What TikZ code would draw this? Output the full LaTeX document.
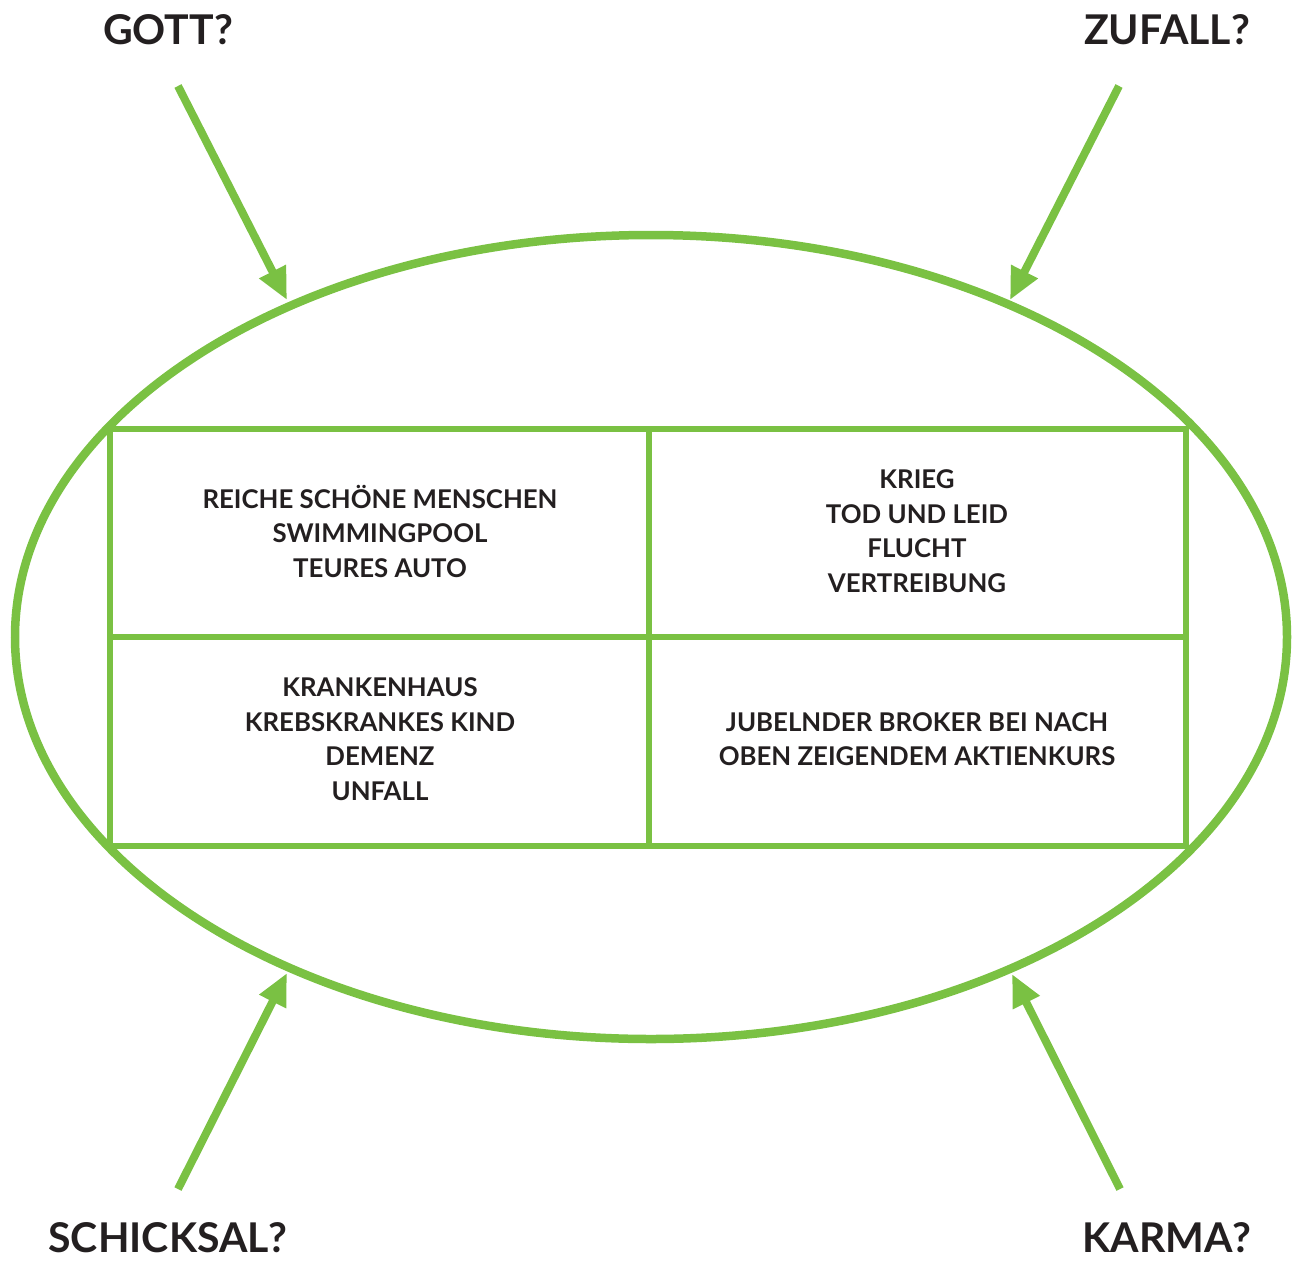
\documentclass[tikz,border=0pt]{standalone}
\usepackage{fontspec}
\setmainfont{Lato}
\usetikzlibrary{arrows.meta}
\definecolor{lgreen}{HTML}{7AC143}
\definecolor{ink}{HTML}{231F20}
\begin{document}
\begin{tikzpicture}[x=1pt,y=-1pt,
  frame/.style={draw=lgreen,line width=5.5pt},
  oval/.style={draw=lgreen,line width=8.5pt},
  pointer/.style={draw=lgreen,line width=8pt,-{Triangle[length=32pt,width=28pt]}},
  celltext/.style={align=center,text=ink,font=\fontsize{25.8}{34.5}\selectfont\bfseries,inner sep=0pt},
  biglabel/.style={text=ink,font=\fontsize{41}{44}\selectfont\bfseries,inner sep=0pt}]
\useasboundingbox (0,0) rectangle (1293,1261);
% ellipse
\draw[oval] (651,637) ellipse [x radius=636pt, y radius=402pt];
% table
\draw[frame] (110,429) rectangle (1186,846);
\draw[frame] (110,637) -- (1186,637);
\draw[frame] (649,429) -- (649,846);
% cell texts
\node[celltext] (tl) at (380,531) {REICHE SCHÖNE MENSCHEN\\SWIMMINGPOOL\\TEURES AUTO};
\node[celltext] (tr) at (917,531) {KRIEG\\TOD UND LEID\\FLUCHT\\VERTREIBUNG};
\node[celltext] (bl) at (380,739) {KRANKENHAUS\\KREBSKRANKES KIND\\DEMENZ\\UNFALL};
\node[celltext] (br) at (917,739) {JUBELNDER BROKER BEI NACH\\OBEN ZEIGENDEM AKTIENKURS};
% labels
\node[biglabel] (gott) at (168,30) {GOTT?};
\node[biglabel] (zufall) at (1167,30) {ZUFALL?};
\node[biglabel] (schicksal) at (168,1238) {SCHICKSAL?};
\node[biglabel] (karma) at (1167,1238) {KARMA?};
% arrow endpoints
\coordinate (g0) at (178,86);   \coordinate (g1) at (287,300);
\coordinate (z0) at (1119,86);  \coordinate (z1) at (1010,300);
\coordinate (s0) at (178,1189); \coordinate (s1) at (287,973);
\coordinate (k0) at (1120,1189);\coordinate (k1) at (1012,974);
\draw[pointer] (g0) -- (g1);
\draw[pointer] (z0) -- (z1);
\draw[pointer] (s0) -- (s1);
\draw[pointer] (k0) -- (k1);
\end{tikzpicture}
\end{document}
